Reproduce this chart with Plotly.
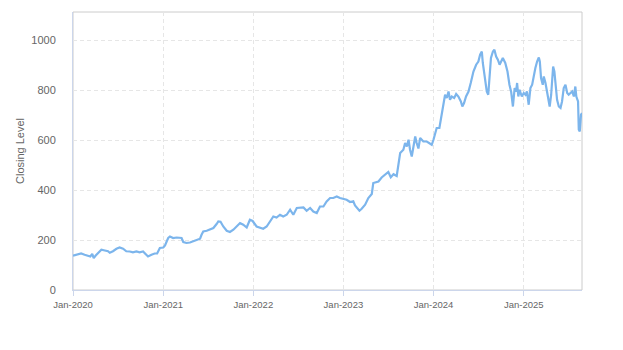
import plotly.graph_objects as go

# Closing level series (roughly weekly observations)
dates = [
    "2020-01-01", "2020-01-14", "2020-02-03", "2020-02-17", "2020-03-02", "2020-03-11",
    "2020-03-19", "2020-03-25", "2020-04-02", "2020-04-11", "2020-04-25", "2020-05-09",
    "2020-05-22", "2020-05-29", "2020-06-11", "2020-06-25", "2020-07-08", "2020-07-22",
    "2020-08-04", "2020-08-18", "2020-08-31", "2020-09-14", "2020-09-27", "2020-10-11",
    "2020-10-24", "2020-10-31", "2020-11-14", "2020-11-27", "2020-12-07", "2020-12-18",
    "2021-01-01", "2021-01-08", "2021-01-15", "2021-01-21", "2021-01-28", "2021-02-10",
    "2021-02-24", "2021-03-09", "2021-03-16", "2021-03-23", "2021-04-05", "2021-04-19",
    "2021-05-02", "2021-05-16", "2021-05-30", "2021-06-05", "2021-06-12", "2021-06-26",
    "2021-07-09", "2021-07-23", "2021-08-05", "2021-08-12", "2021-08-21", "2021-09-01",
    "2021-09-15", "2021-09-28", "2021-10-12", "2021-10-25", "2021-11-08", "2021-11-21",
    "2021-12-05", "2021-12-18", "2021-12-29",
    "2022-01-14", "2022-01-28", "2022-02-10", "2022-02-24", "2022-03-09", "2022-03-23",
    "2022-04-05", "2022-04-19", "2022-05-02", "2022-05-16", "2022-05-30", "2022-06-12",
    "2022-06-26", "2022-07-09", "2022-07-23", "2022-08-05", "2022-08-19", "2022-09-01",
    "2022-09-15", "2022-09-28", "2022-10-12", "2022-10-25", "2022-11-08", "2022-11-21",
    "2022-12-05", "2022-12-18",
    "2023-01-01", "2023-01-14", "2023-01-28", "2023-02-10", "2023-02-17", "2023-02-24",
    "2023-03-07", "2023-03-16", "2023-03-30", "2023-04-12", "2023-04-26", "2023-05-02",
    "2023-05-09", "2023-05-23", "2023-06-05", "2023-06-19", "2023-07-02", "2023-07-12",
    "2023-07-23", "2023-08-05", "2023-08-12", "2023-08-19", "2023-09-01", "2023-09-08",
    "2023-09-15", "2023-09-22", "2023-09-28", "2023-10-05", "2023-10-12", "2023-10-19",
    "2023-10-25", "2023-11-01", "2023-11-08", "2023-11-15", "2023-11-21", "2023-12-05",
    "2023-12-18", "2023-12-25",
    "2024-01-01", "2024-01-08", "2024-01-14", "2024-01-25", "2024-02-03", "2024-02-10",
    "2024-02-17", "2024-02-24", "2024-03-02", "2024-03-08", "2024-03-15", "2024-03-25",
    "2024-04-02", "2024-04-11", "2024-04-21", "2024-04-27", "2024-05-04", "2024-05-12",
    "2024-05-22", "2024-05-31", "2024-06-11", "2024-06-22", "2024-07-01", "2024-07-08",
    "2024-07-15", "2024-07-19", "2024-07-26", "2024-08-04", "2024-08-10", "2024-08-15",
    "2024-08-21", "2024-08-29", "2024-09-04", "2024-09-11", "2024-09-18", "2024-09-25",
    "2024-09-30", "2024-10-08", "2024-10-18", "2024-10-27", "2024-11-04", "2024-11-11",
    "2024-11-18", "2024-11-25", "2024-12-01", "2024-12-05", "2024-12-10", "2024-12-15",
    "2024-12-24",
    "2025-01-01", "2025-01-08", "2025-01-14", "2025-01-21", "2025-01-28", "2025-02-04",
    "2025-02-10", "2025-02-17", "2025-02-24", "2025-03-03", "2025-03-07", "2025-03-12",
    "2025-03-19", "2025-03-23", "2025-03-30", "2025-04-05", "2025-04-12", "2025-04-16",
    "2025-04-22", "2025-04-26", "2025-04-30", "2025-05-05", "2025-05-09", "2025-05-16",
    "2025-05-23", "2025-05-30", "2025-06-05", "2025-06-12", "2025-06-19", "2025-06-26",
    "2025-07-02", "2025-07-09", "2025-07-16", "2025-07-23", "2025-07-29", "2025-08-02",
    "2025-08-09", "2025-08-12", "2025-08-16", "2025-08-21", "2025-08-25",
]

closing = [
    137, 141, 146, 141, 138, 134,
    144, 128, 138, 147, 161, 158,
    155, 149, 155, 165, 170, 165,
    155, 154, 151, 154, 151, 154,
    141, 134, 141, 146, 146, 168,
    170, 178, 195, 208, 214, 208,
    210, 210, 208, 192, 188, 190,
    194, 201, 205, 221, 234, 237,
    241, 248, 264, 274, 273, 254,
    237, 232, 241, 254, 268, 261,
    250, 281, 276,
    254, 248, 245, 254, 274, 294,
    290, 301, 294, 301, 321, 301,
    328, 330, 330, 317, 328, 314,
    308, 334, 334, 354, 368, 368,
    374, 368,
    365, 361, 352, 355, 338, 330,
    317, 325, 341, 368, 384, 428,
    430, 434, 450, 461, 472, 451,
    463, 456, 514, 548, 561, 588,
    574, 601, 561, 534, 574, 614,
    588, 566, 608, 601, 594, 594,
    584, 581,
    601, 634, 648, 648, 701, 741,
    781, 768, 794, 761, 774, 768,
    784, 774, 754, 734, 748, 774,
    794, 828, 874, 901, 914, 941,
    954, 908, 848, 794, 781, 848,
    928, 954, 961, 934, 921, 901,
    914, 928, 908, 874, 821, 792,
    734, 808, 794, 828, 774, 801,
    774,
    788, 781, 794, 741, 808, 821,
    861, 888, 914, 930, 914, 848,
    821, 854, 828, 794, 754, 734,
    781, 848, 894, 874, 821, 761,
    734, 728, 754, 808, 821, 788,
    781, 788, 794, 774, 814, 774,
    754, 641, 634, 701, 708,
]

y_ticks = [0, 200, 400, 600, 800, 1000]

FONT = "Liberation Sans, Arial, sans-serif"
GRID_DASH = "4px,3px"

fig = go.Figure()
fig.add_trace(go.Scatter(
    x=dates, y=closing, mode="lines",
    line=dict(color="#7cb5ec", width=2.2),
    hoverinfo="skip", showlegend=False,
))

fig.update_layout(
    width=623, height=350,
    margin=dict(l=73, r=41, t=12, b=60),
    paper_bgcolor="white", plot_bgcolor="white",
    font=dict(family=FONT, color="#666666"),
    shapes=[dict(type="rect", xref="paper", yref="paper", x0=0, y0=0, x1=1, y1=1,
                 line=dict(color="#cccccc", width=1), layer="below")],
)

fig.update_xaxes(
    type="date",
    range=[dates[0], dates[-1]],
    tick0="2020-01-01", dtick="M12", tickformat="%b-%Y",
    tickfont=dict(size=9.5, color="#666666"),
    ticks="outside", ticklen=5, tickcolor="#ccd6eb", ticklabelstandoff=1,
    showline=True, linecolor="#ccd6eb", linewidth=1,
    showgrid=True, gridcolor="#e6e6e6", griddash=GRID_DASH, gridwidth=1,
    zeroline=False,
)

fig.update_yaxes(
    range=[0, 1112],
    tickvals=y_ticks,
    tickfont=dict(size=11, color="#666666"),
    ticklabelstandoff=14,
    showgrid=True, gridcolor="#e6e6e6", griddash=GRID_DASH, gridwidth=1,
    zeroline=False, showline=True, linecolor="#ccd6eb", linewidth=1,
    title=dict(text="Closing Level", font=dict(size=11, color="#666666"), standoff=4),
)

fig.write_html("out.html")
